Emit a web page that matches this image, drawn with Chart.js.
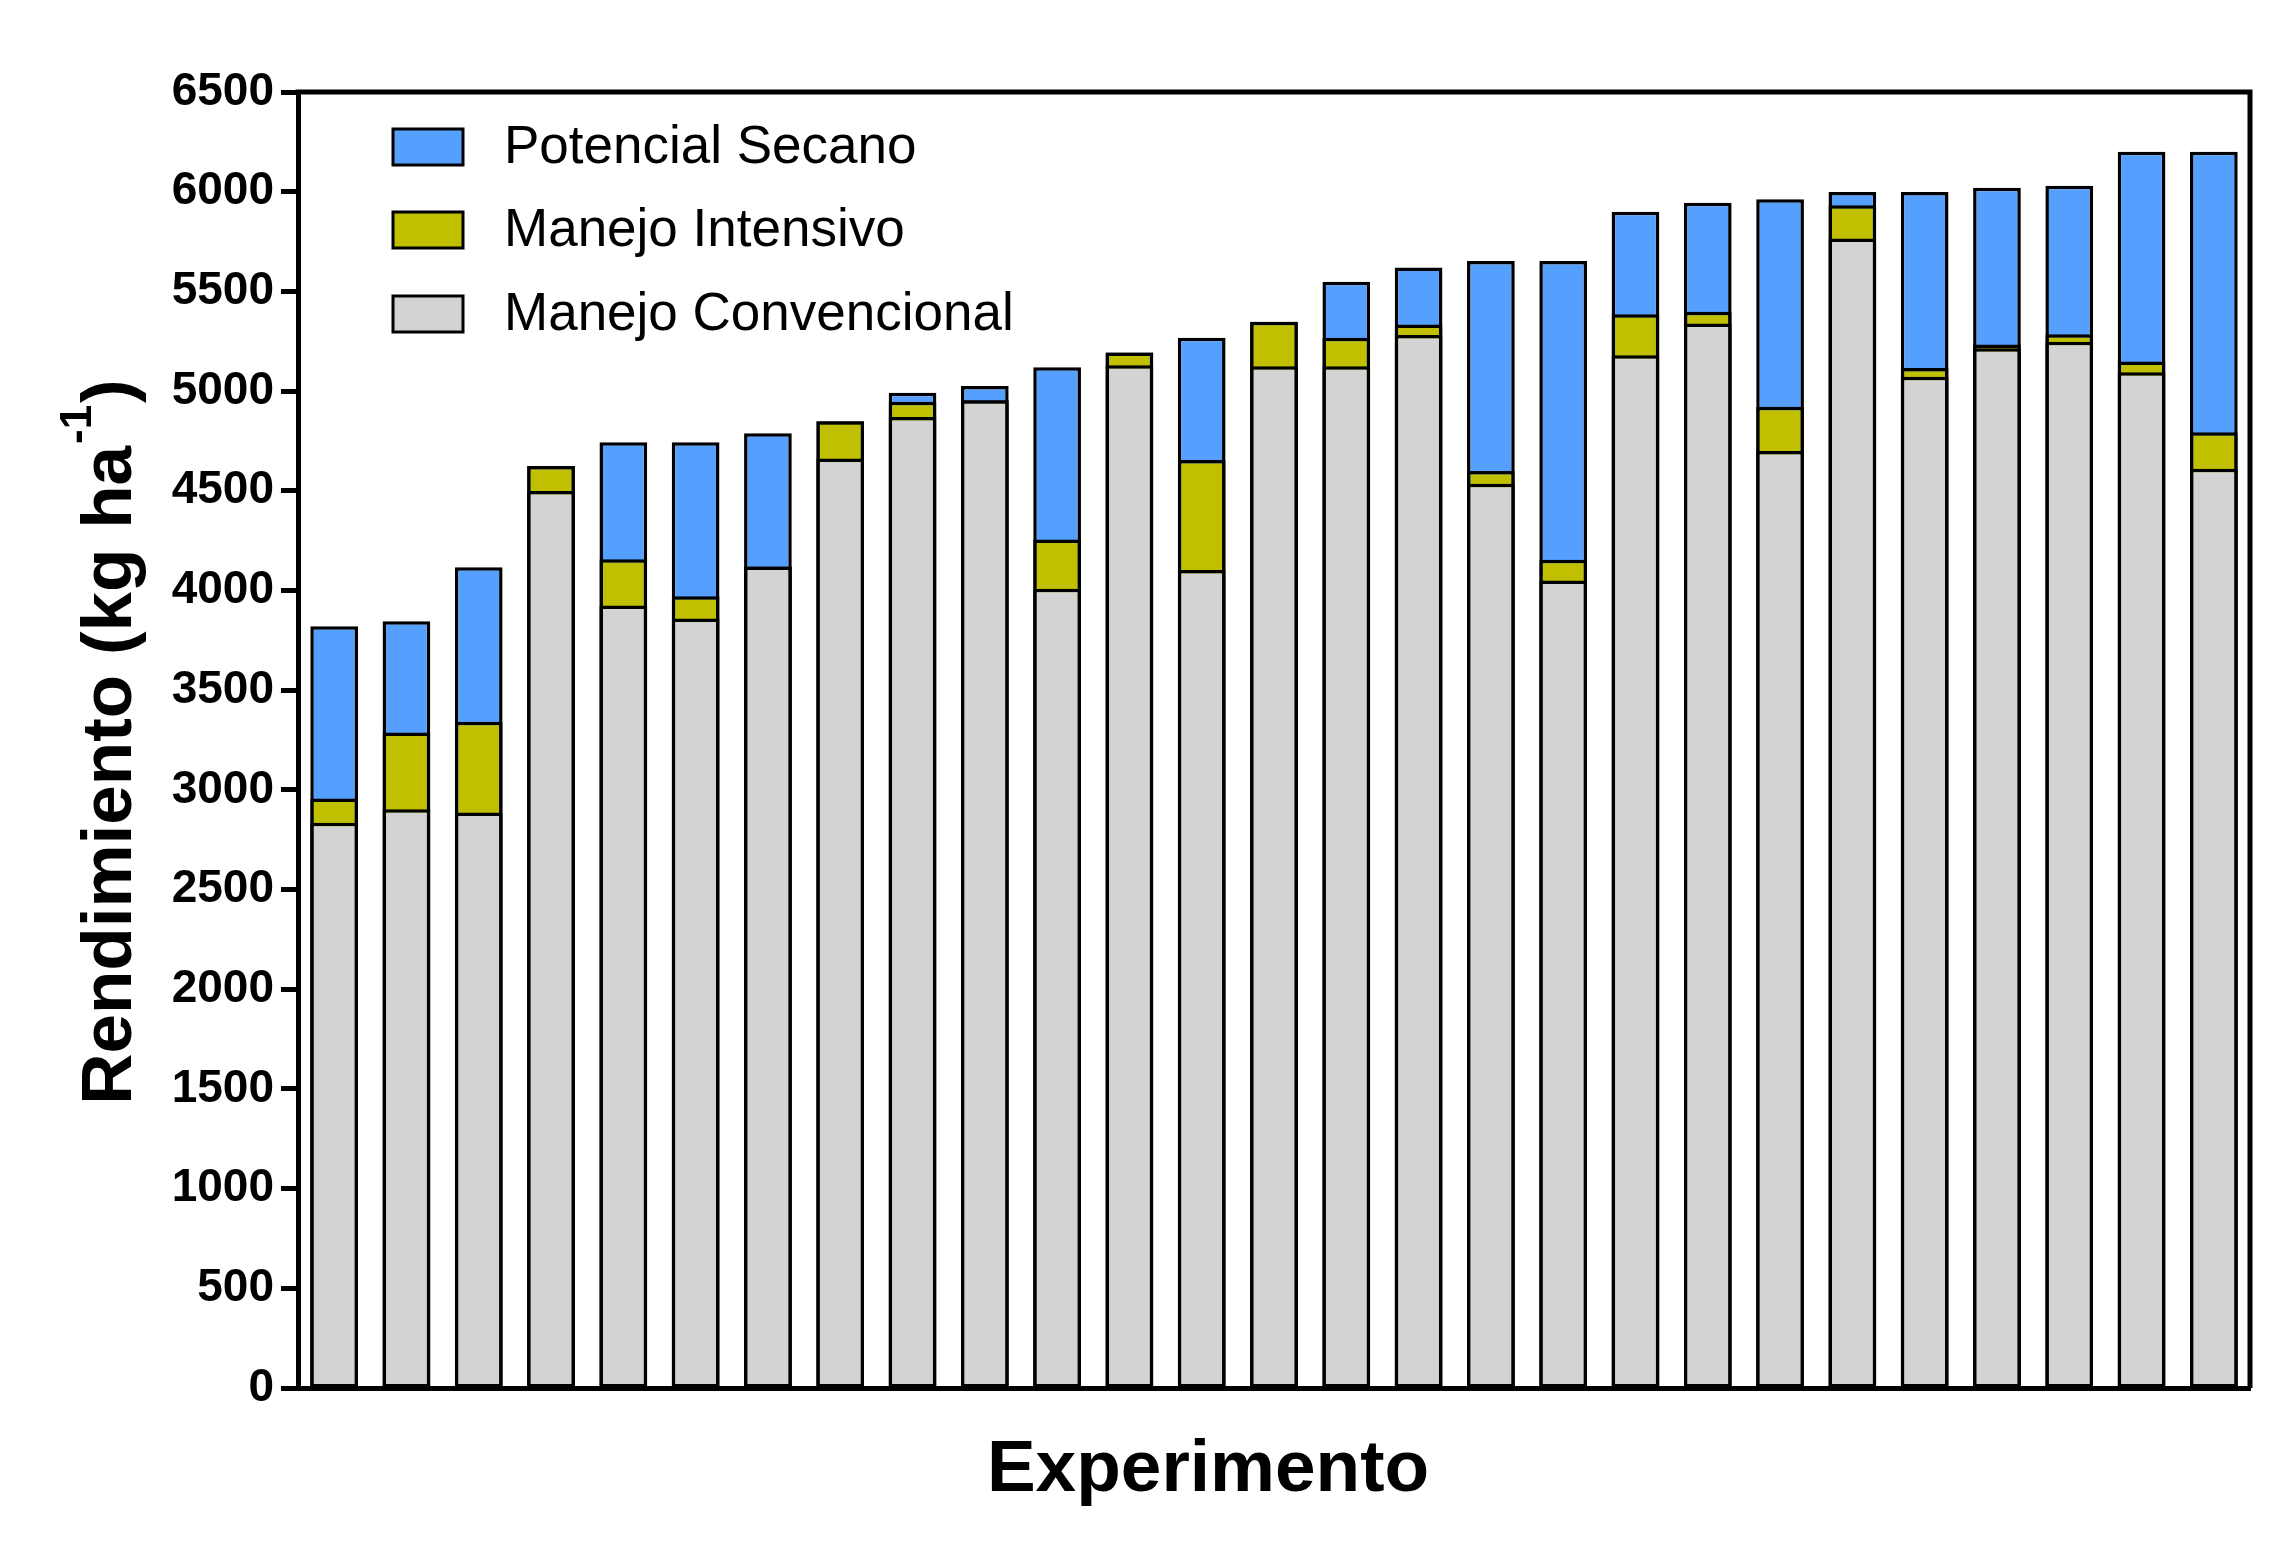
<!DOCTYPE html>
<html><head><meta charset="utf-8">
<script src="https://cdn.jsdelivr.net/npm/chart.js@4.4.1/dist/chart.umd.min.js"></script>
<style>html,body{margin:0;padding:0;background:#fff}#wrap{width:2283px;height:1552px;position:relative}</style>
</head><body><div id="wrap"><canvas id="c"></canvas></div>
<script>
// ---- data (kg/ha) ----
const categories = ["1","2","3","4","5","6","7","8","9","10","11","12","13","14","15","16","17","18","19","20","21","22","23","24","25","26","27"];
const convencional = [2835,2903,2887,4499,3925,3860,4120,4662,4870,4954,4008,5130,4103,5125,5125,5281,4535,4050,5180,5339,4700,5765,5072,5215,5247,5095,4610];
const intensivo    = [2957,3288,3341,4624,4156,3971,4120,4849,4947,4954,4256,5194,4654,5348,5267,5334,4599,4154,5385,5398,4922,5932,5116,5233,5285,5148,4794];
const secano       = [3820,3846,4117,4624,4743,4743,4789,4849,4991,5025,5120,5194,5267,5348,5548,5620,5652,5652,5900,5945,5962,5998,5998,6020,6030,6200,6200];
const yTicks = [0,500,1000,1500,2000,2500,3000,3500,4000,4500,5000,5500,6000,6500];
const seriesNames = ["Manejo Convencional","Manejo Intensivo","Potencial Secano"];
const xTitle = "Experimento";
const yTitleMain = "Rendimiento (kg ha";
const yTitleSup = "-1";
const yTitleEnd = ")";

const FONT = "'Liberation Sans', Arial, Helvetica, sans-serif";
const colors = {conv:'#D3D3D3', int:'#C0C000', sec:'#559FFF'};

const framePlugin = {
  id:'frame',
  afterDraw(chart){
    const {ctx, chartArea:a} = chart;
    ctx.save();
    ctx.strokeStyle='#000'; ctx.lineWidth=5;
    ctx.beginPath();
    ctx.moveTo(a.left-2.5, a.top); ctx.lineTo(a.right+2.5, a.top);
    ctx.moveTo(a.right, a.top); ctx.lineTo(a.right, a.bottom);
    ctx.stroke();
    ctx.restore();
  }
};

const legendPlugin = {
  id:'customLegend',
  afterDraw(chart){
    const {ctx} = chart;
    const ds = chart.data.datasets;
    const order = [2,1,0];
    const rowsY = [147,230,314];
    ctx.save();
    order.forEach((di,i)=>{
      const d = ds[di];
      const y = rowsY[i];
      ctx.fillStyle = d.backgroundColor;
      ctx.fillRect(393, y-18, 70, 36);
      ctx.strokeStyle='#000'; ctx.lineWidth=3;
      ctx.strokeRect(393, y-18, 70, 36);
      ctx.fillStyle='#000';
      ctx.font = `53px ${FONT}`;
      ctx.textBaseline='middle'; ctx.textAlign='left';
      ctx.fillText(d.label, 504, y+1);
    });
    ctx.restore();
  }
};

const titlesPlugin = {
  id:'titles',
  afterDraw(chart){
    const {ctx} = chart;
    ctx.save();
    ctx.fillStyle='#000';
    ctx.font = `bold 73px ${FONT}`;
    ctx.textAlign='center'; ctx.textBaseline='alphabetic';
    ctx.fillText(xTitle, 1208, 1491);
    const mainFont = `bold 71px ${FONT}`;
    const supFont = `bold 44px ${FONT}`;
    ctx.font = mainFont; const w1 = ctx.measureText(yTitleMain).width; const w3 = ctx.measureText(yTitleEnd).width;
    ctx.font = supFont; const w2 = ctx.measureText(yTitleSup).width;
    const total = w1 + w2 + w3 + 4;
    ctx.translate(131, 742);
    ctx.rotate(-Math.PI/2);
    ctx.textAlign='left';
    let x = -total/2;
    ctx.font = mainFont; ctx.fillText(yTitleMain, x, 0); x += w1 + 2;
    ctx.font = supFont; ctx.fillText(yTitleSup, x, -40); x += w2 + 2;
    ctx.font = mainFont; ctx.fillText(yTitleEnd, x, 0);
    ctx.restore();
  }
};

const common = {grouped:false, borderColor:'#000', borderWidth:3.5, borderSkipped:false, barPercentage:0.66, categoryPercentage:1.0};

new Chart(document.getElementById('c'), {
  type:'bar',
  data:{
    labels: categories,
    datasets:[
      {label:seriesNames[0], data:convencional, backgroundColor:colors.conv, ...common},
      {label:seriesNames[1], data:intensivo, backgroundColor:colors.int, ...common},
      {label:seriesNames[2], data:secano, backgroundColor:colors.sec, ...common}
    ]
  },
  options:{
    responsive:true, maintainAspectRatio:false, animation:false, devicePixelRatio:1,
    layout:{padding:{left:0, right:33, top:92, bottom:0}},
    plugins:{legend:{display:false}, tooltip:{enabled:false}, title:{display:false}},
    scales:{
      x:{
        offset:true,
        ticks:{display:false},
        grid:{display:false, drawTicks:false},
        border:{display:true, width:5, color:'#000'},
        afterFit(s){ s.height = 164; }
      },
      y:{
        min:0, max:6500,
        afterBuildTicks(s){ s.ticks = yTicks.map(v=>({value:v})); },
        ticks:{font:{family:FONT, size:46, weight:'bold'}, color:'#000', padding:7, callback:(v)=>String(v)},
        grid:{drawOnChartArea:false, drawTicks:true, tickLength:17, tickWidth:5, color:'#000'},
        border:{display:true, width:5, color:'#000'},
        afterFit(s){ s.width = 298; }
      }
    }
  },
  plugins:[framePlugin, legendPlugin, titlesPlugin]
});
</script>
</body></html>
